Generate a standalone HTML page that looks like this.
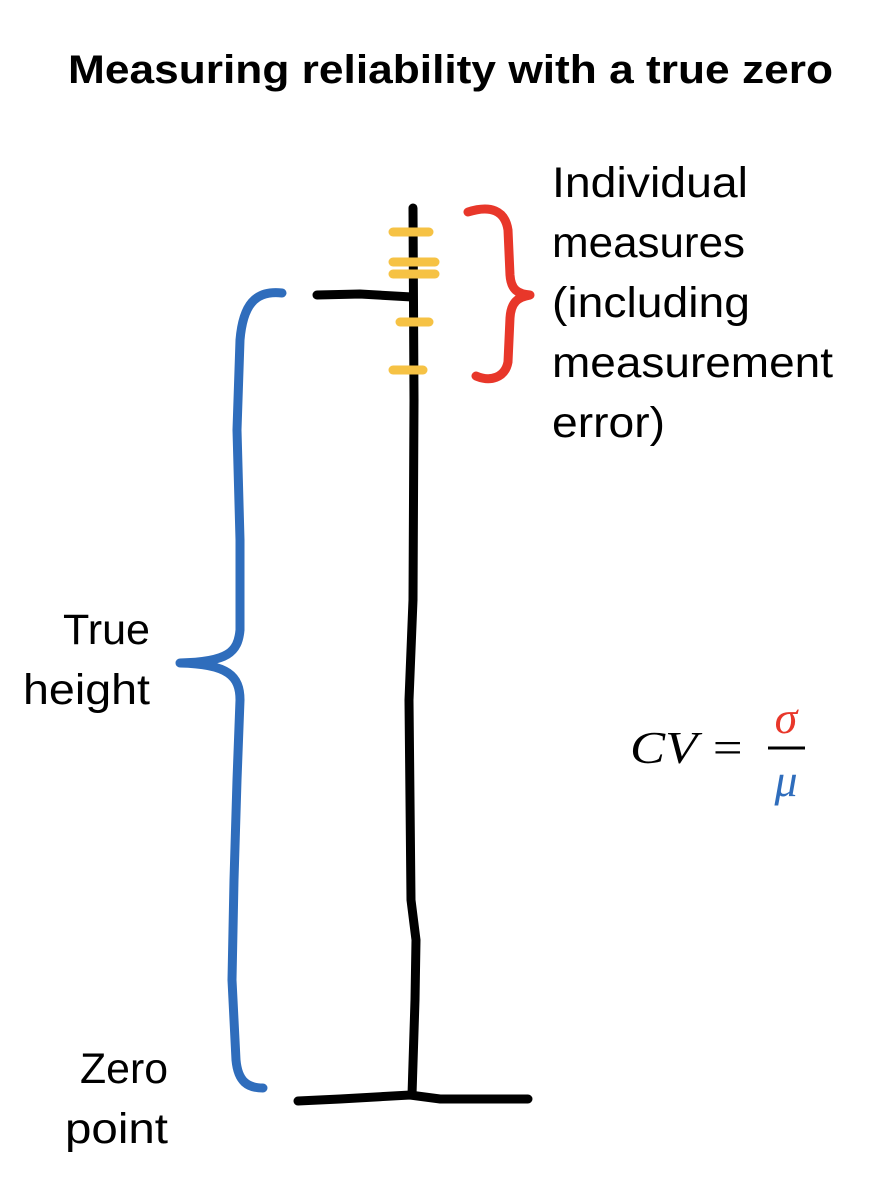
<!DOCTYPE html>
<html>
<head>
<meta charset="utf-8">
<style>
html,body{margin:0;padding:0;background:#fff;}
svg{display:block;}
text{font-family:"Liberation Sans",sans-serif;fill:#000;}
text.serif{font-family:"Liberation Serif","DejaVu Serif",serif;font-style:italic;}
</style>
</head>
<body>
<svg width="888" height="1200" viewBox="0 0 888 1200">
  <text x="68" y="83" font-size="40" font-weight="bold" textLength="765" lengthAdjust="spacingAndGlyphs">Measuring reliability with a true zero</text>

  <path d="M413,208 L414,400 L413,600 L409,700 L411,900 L416,940 L415,1000 L412,1095" fill="none" stroke="#000" stroke-width="9" stroke-linecap="round"/>
  <path d="M298,1101 L340,1099 L410,1095 L440,1099 L528,1099" fill="none" stroke="#000" stroke-width="9" stroke-linecap="round"/>
  <path d="M317,295 L360,294 L412,297" fill="none" stroke="#000" stroke-width="9" stroke-linecap="round"/>

  <g stroke="#F6C244" stroke-width="9" stroke-linecap="round">
    <line x1="393" y1="232" x2="429" y2="232"/>
    <line x1="393" y1="262" x2="435" y2="262"/>
    <line x1="393" y1="274" x2="435" y2="274"/>
    <line x1="400" y1="322" x2="429" y2="322"/>
    <line x1="393" y1="370" x2="423" y2="370"/>
  </g>

  <path d="M468,212 C490,205 505,210 508,230 L510,275 C511,290 518,294 530,295 C518,297 511,302 510,318 L508,362 C505,378 490,382 476,376" fill="none" stroke="#E8372A" stroke-width="9" stroke-linecap="round" stroke-linejoin="round"/>

  <path d="M282,293 C255,290 243,305 240,340 L237,430 L240,540 L240,630 C238,652 228,662 180,663 C228,664 240,676 240,700 L237,780 L234,880 L232,980 L236,1060 C238,1082 248,1088 263,1088" fill="none" stroke="#2F6DBC" stroke-width="9" stroke-linecap="round" stroke-linejoin="round"/>

  <g font-size="43">
    <text x="552" y="197" textLength="196" lengthAdjust="spacingAndGlyphs">Individual</text>
    <text x="552" y="257" textLength="193" lengthAdjust="spacingAndGlyphs">measures</text>
    <text x="552" y="317" textLength="198" lengthAdjust="spacingAndGlyphs">(including</text>
    <text x="552" y="377" textLength="281" lengthAdjust="spacingAndGlyphs">measurement</text>
    <text x="552" y="437" textLength="113" lengthAdjust="spacingAndGlyphs">error)</text>
  </g>
  <g font-size="43">
    <text x="63" y="644" textLength="87" lengthAdjust="spacingAndGlyphs">True</text>
    <text x="23" y="704" textLength="127" lengthAdjust="spacingAndGlyphs">height</text>
  </g>
  <g font-size="43">
    <text x="80" y="1083" textLength="88" lengthAdjust="spacingAndGlyphs">Zero</text>
    <text x="65" y="1143" textLength="103" lengthAdjust="spacingAndGlyphs">point</text>
  </g>

  <g>
    <text class="serif" x="630" y="763" font-size="46" textLength="115" lengthAdjust="spacingAndGlyphs">CV =</text>
    <text class="serif" x="786" y="733" text-anchor="middle" font-size="46" style="fill:#E8372A">σ</text>
    <line x1="768" y1="748" x2="805" y2="748" stroke="#000" stroke-width="3"/>
    <text class="serif" x="786" y="796" text-anchor="middle" font-size="46" style="fill:#2F6DBC">μ</text>
  </g>
</svg>
</body>
</html>
